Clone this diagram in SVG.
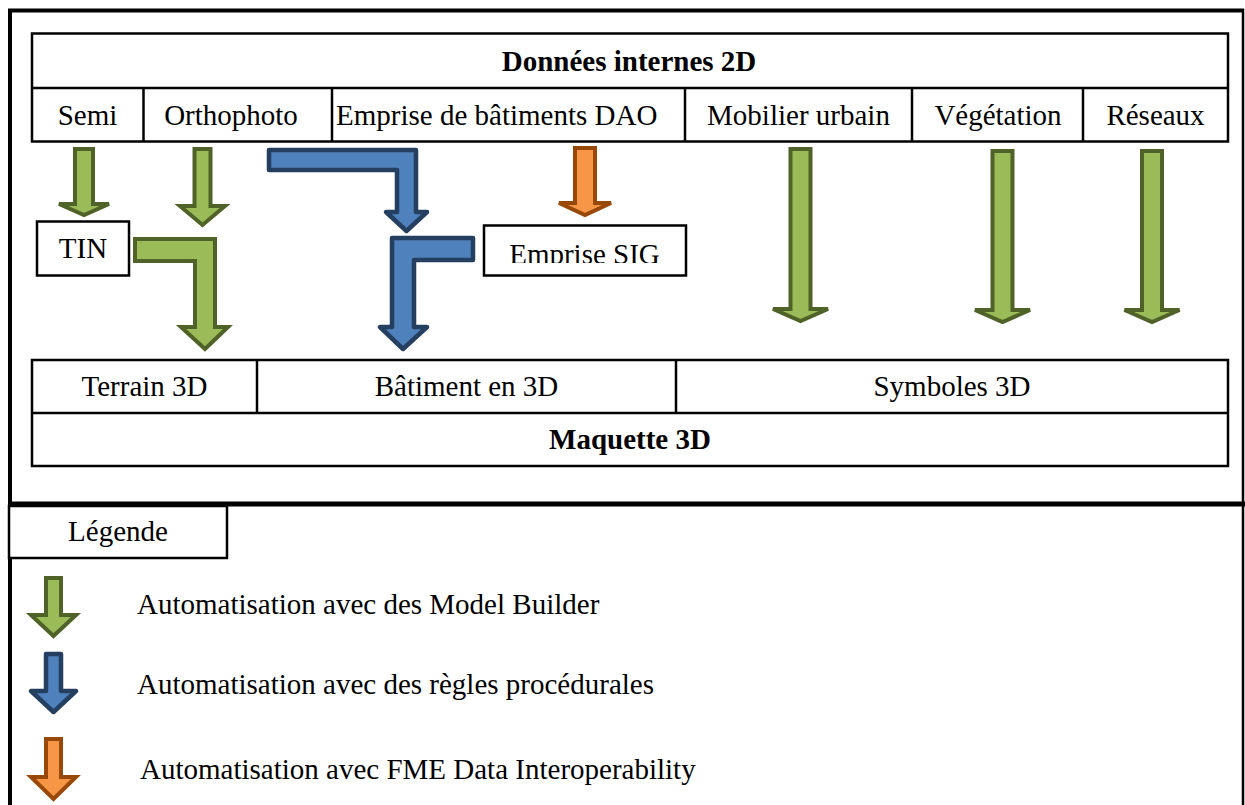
<svg xmlns="http://www.w3.org/2000/svg" width="1245" height="805" viewBox="0 0 1245 805">
<style>
.t{font-family:"Liberation Serif","Times New Roman",serif;font-size:29px;fill:#000}
.b{font-weight:bold}
.c{text-anchor:middle}
.box{fill:#fff;stroke:#000;stroke-width:2.5}
.ln{stroke:#000;stroke-width:2.5;fill:none}
.g{fill:#9BBB59;stroke:#4F6228;stroke-width:4;stroke-linejoin:miter}
.bl{fill:#4F81BD;stroke:#243F60;stroke-width:4.5;stroke-linejoin:round}
.o{fill:#F79646;stroke:#984807;stroke-width:4;stroke-linejoin:miter}
</style>
<defs>
<clipPath id="sigclip"><rect x="483" y="225" width="203" height="38"/></clipPath>
</defs>
<rect x="0" y="0" width="1245" height="805" fill="#fff"/>
<g id="frame">
<line x1="8" y1="10.5" x2="1244" y2="10.5" stroke="#000" stroke-width="4"/>
<line x1="10" y1="9" x2="10" y2="805" stroke="#000" stroke-width="4"/>
<line x1="1243" y1="9" x2="1243" y2="805" stroke="#000" stroke-width="2.5"/>
<line x1="8" y1="504" x2="1245" y2="504" stroke="#000" stroke-width="5"/>
</g>
<g id="donnees-2d">
<rect class="box" x="32" y="33.5" width="1196" height="108"/>
<line class="ln" x1="32" y1="88" x2="1228" y2="88"/>
<line class="ln" x1="143.5" y1="88" x2="143.5" y2="141.5"/>
<line class="ln" x1="332" y1="88" x2="332" y2="141.5"/>
<line class="ln" x1="685" y1="88" x2="685" y2="141.5"/>
<line class="ln" x1="912" y1="88" x2="912" y2="141.5"/>
<line class="ln" x1="1083" y1="88" x2="1083" y2="141.5"/>
<text class="t b c" x="629" y="71">Données internes 2D</text>
</g>
<g id="semi"><text class="t c" x="87.5" y="125">Semi</text></g>
<g id="orthophoto"><text class="t c" x="231" y="125">Orthophoto</text></g>
<g id="emprise-dao"><text class="t" x="336" y="125">Emprise de bâtiments DAO</text></g>
<g id="mobilier"><text class="t c" x="798.5" y="125">Mobilier urbain</text></g>
<g id="vegetation"><text class="t c" x="998" y="125">Végétation</text></g>
<g id="reseaux"><text class="t c" x="1155.5" y="125">Réseaux</text></g>
<g id="tin">
<rect class="box" x="37" y="221.5" width="92" height="54"/>
<text class="t c" x="83" y="258">TIN</text>
</g>
<g id="emprise-sig">
<rect class="box" x="484" y="225.5" width="202" height="50"/>
<text class="t c" x="584.5" y="264" clip-path="url(#sigclip)">Emprise SIG</text>
</g>
<g id="maquette-3d">
<rect class="box" x="32" y="360" width="1196" height="106"/>
<line class="ln" x1="32" y1="413" x2="1228" y2="413"/>
<line class="ln" x1="257" y1="360" x2="257" y2="413"/>
<line class="ln" x1="676" y1="360" x2="676" y2="413"/>
<text class="t c" x="630" y="449" font-weight="bold">Maquette 3D</text>
</g>
<g id="terrain-3d"><text class="t c" x="144.5" y="396">Terrain 3D</text></g>
<g id="batiment-3d"><text class="t c" x="466.5" y="396">Bâtiment en 3D</text></g>
<g id="symboles-3d"><text class="t c" x="952" y="396">Symboles 3D</text></g>
<g id="connectors">
<path class="g" d="M75,149 H93 V204 H109 L84,215 L59,204 H75 Z"/>
<path class="g" d="M194.5,149 H210.5 V206 H225 L202.5,225 L180,206 H194.5 Z"/>
<path class="g" d="M135,239 H215 V327 H228 L205,349 L181,327 H195 V261 H135 Z"/>
<path class="bl" d="M269,150 H416 V212 H427 L406.5,231 L386,212 H397 V170 H269 Z"/>
<path class="bl" d="M392,238 H473 V260 H414 V327 H427 L403,349 L380,327 H392 Z"/>
<path class="o" d="M575,148 H595 V203 H611 L585,215 L559,203 H575 Z"/>
<path class="g" d="M790.5,149 H810.5 V309 H828 L800.5,321 L773,309 H790.5 Z"/>
<path class="g" d="M992.5,151 H1012.5 V310 H1030 L1002.5,322 L975,310 H992.5 Z"/>
<path class="g" d="M1142,151 H1162 V310 H1179.5 L1152,322 L1124.5,310 H1142 Z"/>
</g>
<g id="legende">
<rect class="box" x="9" y="506" width="218" height="52"/>
<text class="t c" x="118" y="541">Légende</text>
</g>
<g id="legend-model-builder">
<path class="g" d="M46,578 H61 V615 H76 L53.5,636 L31,615 H46 Z"/>
<text class="t" x="137" y="614">Automatisation avec des Model Builder</text>
</g>
<g id="legend-regles">
<path class="bl" d="M46,654 H61 V691 H76 L53.5,712 L31,691 H46 Z" stroke-linejoin="miter"/>
<text class="t" x="137" y="694">Automatisation avec des règles procédurales</text>
</g>
<g id="legend-fme">
<path class="o" d="M46,739 H61 V777 H76 L53.5,799 L31,777 H46 Z"/>
<text class="t" x="140" y="779">Automatisation avec FME Data Interoperability</text>
</g>
</svg>
